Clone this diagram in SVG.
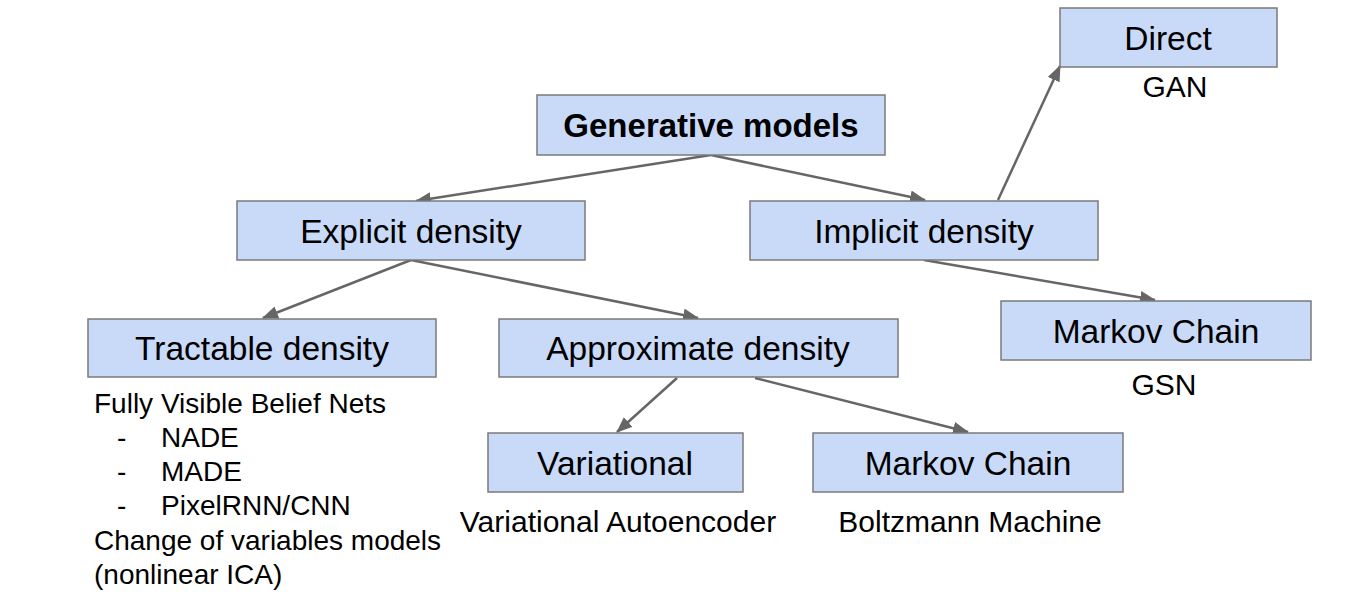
<svg xmlns="http://www.w3.org/2000/svg" width="1362" height="612" viewBox="0 0 1362 612">
<defs>
<marker id="arr" markerUnits="userSpaceOnUse" markerWidth="16" markerHeight="13" refX="15" refY="6.5" orient="auto">
<path d="M0,0 L16,6.5 L0,13 z" fill="#666666"/>
</marker>
<style>
.box{fill:#c9daf8;stroke:#7a7a7a;stroke-width:1.5}
.lbl{font-family:"Liberation Sans",Arial,sans-serif;font-size:33.5px;fill:#000;text-anchor:middle}
.bold{font-weight:bold;font-size:33px}
.sub{font-family:"Liberation Sans",Arial,sans-serif;font-size:28px;fill:#000}
.mid{text-anchor:middle;font-size:30px}
.conn line{stroke:#666666;stroke-width:2.5;marker-end:url(#arr)}
</style>
</defs>
<rect width="1362" height="612" fill="#ffffff"/>
<g id="connectors" class="conn">
<line x1="711" y1="155" x2="416" y2="201"/>
<line x1="711" y1="155" x2="925" y2="200"/>
<line x1="411" y1="260" x2="263" y2="318"/>
<line x1="411" y1="260" x2="698" y2="318"/>
<line x1="998" y1="200" x2="1060" y2="66"/>
<line x1="924" y1="260" x2="1155" y2="300"/>
<line x1="677" y1="378" x2="617" y2="432"/>
<line x1="755" y1="378" x2="968" y2="432"/>
</g>
<g id="generative">
<rect class="box" x="537" y="95" width="348" height="60"/>
<text class="lbl bold" x="711" y="137">Generative models</text>
</g>
<g id="explicit">
<rect class="box" x="237" y="201" width="348" height="59"/>
<text class="lbl" x="411" y="243">Explicit density</text>
</g>
<g id="implicit">
<rect class="box" x="750" y="201" width="348" height="59"/>
<text class="lbl" x="924" y="243">Implicit density</text>
</g>
<g id="direct">
<rect class="box" x="1060" y="8" width="217" height="59"/>
<text class="lbl" x="1168" y="50">Direct</text>
<text class="sub mid" x="1175" y="97">GAN</text>
</g>
<g id="markov-right">
<rect class="box" x="1001" y="301" width="310" height="59"/>
<text class="lbl" x="1156" y="343">Markov Chain</text>
<text class="sub mid" x="1164" y="395">GSN</text>
</g>
<g id="tractable">
<rect class="box" x="88" y="319" width="348" height="58"/>
<text class="lbl" x="262" y="360">Tractable density</text>
<text class="sub" x="94" y="413">Fully Visible Belief Nets</text>
<text class="sub" x="117" y="447">-</text>
<text class="sub" x="161" y="447">NADE</text>
<text class="sub" x="117" y="481">-</text>
<text class="sub" x="161" y="481">MADE</text>
<text class="sub" x="117" y="515">-</text>
<text class="sub" x="161" y="515">PixelRNN/CNN</text>
<text class="sub" x="94" y="550">Change of variables models</text>
<text class="sub" x="94" y="584">(nonlinear ICA)</text>
</g>
<g id="approximate">
<rect class="box" x="499" y="319" width="399" height="58"/>
<text class="lbl" x="698" y="360">Approximate density</text>
</g>
<g id="variational">
<rect class="box" x="488" y="433" width="255" height="59"/>
<text class="lbl" x="615" y="475">Variational</text>
<text class="sub mid" x="618" y="532">Variational Autoencoder</text>
</g>
<g id="markov-bottom">
<rect class="box" x="813" y="433" width="310" height="59"/>
<text class="lbl" x="968" y="475">Markov Chain</text>
<text class="sub mid" x="970" y="532">Boltzmann Machine</text>
</g>
</svg>
